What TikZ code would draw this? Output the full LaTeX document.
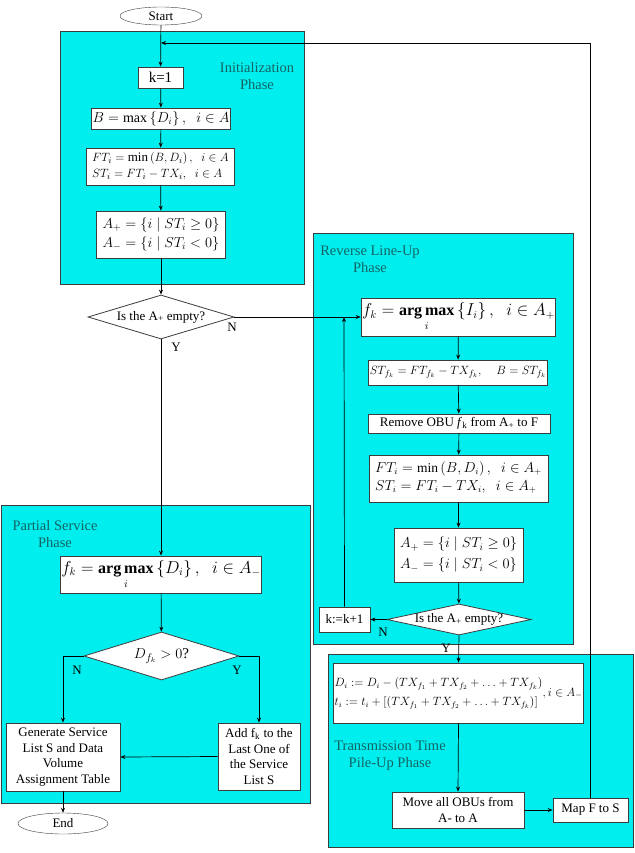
\documentclass[tikz,border=0pt]{standalone}
\usepackage{amsmath}
\usepackage{fontspec}
\setmainfont{Liberation Serif}
\usetikzlibrary{shapes.geometric,arrows.meta}
\definecolor{phasefill}{RGB}{0,238,238}
\definecolor{phasetxt}{RGB}{20,100,100}
\definecolor{edgegray}{RGB}{60,60,60}
\tikzset{
  phase/.style={draw=edgegray, fill=phasefill, line width=0.8pt},
  phaselabel/.style={text=phasetxt, align=center, font=\fontsize{14.5}{17}\selectfont},
  box/.style={draw=edgegray, fill=white, line width=0.8pt, align=center, inner sep=1pt,
              font=\fontsize{13}{15.5}\selectfont},
  term/.style={draw=edgegray, fill=white, ellipse, inner sep=0pt, font=\fontsize{13}{15}\selectfont},
  dec/.style={draw=edgegray, fill=white, diamond, inner sep=0pt, line width=0.8pt,
              font=\fontsize{13}{15}\selectfont},
  conn/.style={draw=black, line width=0.7pt, -{Stealth[length=5pt,width=4pt]}},
  lbl/.style={font=\fontsize{13}{15}\selectfont, inner sep=0pt}
}
\begin{document}
\begin{tikzpicture}[x=1pt,y=-1pt]
\useasboundingbox (0,0) rectangle (634,853);
\fill[white] (0,0) rectangle (634,853);

% phase regions
\draw[phase] (60,31) rectangle (304,284);
\draw[phase] (313,233) rectangle (573,644);
\draw[phase] (1,505) rectangle (310,803);
\draw[phase] (328,654) rectangle (633,847);

\node[phaselabel] (lblinit) at (257,76) {Initialization\\Phase};
\node[phaselabel] (lblrev) at (370,259) {Reverse Line-Up\\Phase};
\node[phaselabel] (lblpart) at (55,534) {Partial Service\\Phase};
\node[phaselabel] (lbltrans) at (390,756) {Transmission Time\\Pile-Up Phase};

% nodes
\node[term, minimum width=82, minimum height=18] (start) at (161,16) {Start};
\node[box, minimum width=45, minimum height=21, font=\fontsize{15}{17}\selectfont] (k1) at (160.5,77.5) {k=1};
\node[box, minimum width=126, minimum height=21, font=\fontsize{14}{16}\selectfont] (bmax) at (161,118.5) {$B=\max\left\{D_i\right\},\;\; i\in A$};
\node[box, minimum width=133, minimum height=37] (ftst) at (160.5,166.5)
  {$\begin{array}{l} FT_i=\min\left(B,D_i\right),\;\; i\in A\\ ST_i=FT_i-TX_i,\;\; i\in A\end{array}$};
\node[box, minimum width=114, minimum height=47, font=\fontsize{14.5}{17}\selectfont] (apm) at (161,234.5)
  {$\begin{array}{l} A_+=\left\{i\mid ST_i\ge 0\right\}\\[2pt] A_-=\left\{i\mid ST_i< 0\right\}\end{array}$};
\node[dec, minimum width=146, minimum height=44, aspect=3.3] (dec1) at (161,317) {Is the A\textsubscript{+} empty?};

\node[box, minimum width=183, minimum height=38, font=\fontsize{16}{18}\selectfont] (fk1) at (458.5,317)
  {$f_k=\mathop{\mathbf{arg\,max}}\limits_i\left\{I_i\right\},\;\; i\in A_+$};
\node[box, minimum width=170, minimum height=25] (stfk) at (458,372.5)
  {$ST_{f_k}=FT_{f_k}-TX_{f_k},\quad B=ST_{f_k}$};
\node[box, minimum width=182, minimum height=19] (remove) at (459,423.5)
  {Remove OBU \textit{f}\textsubscript{k} from A\textsubscript{+} to F};
\node[box, minimum width=151, minimum height=47, font=\fontsize{13.5}{16}\selectfont] (ftst2) at (458.5,478.5)
  {$\begin{array}{l} FT_i=\min\left(B,D_i\right),\;\; i\in A_+\\[2pt] ST_i=FT_i-TX_i,\;\; i\in A_+\end{array}$};
\node[box, minimum width=113, minimum height=54, font=\fontsize{14.5}{17}\selectfont] (apm2) at (458.5,555)
  {$\begin{array}{l} A_+=\left\{i\mid ST_i\ge 0\right\}\\[4pt] A_-=\left\{i\mid ST_i< 0\right\}\end{array}$};
\node[dec, minimum width=144, minimum height=31, aspect=4.6] (dec2) at (459,619.5) {Is the A\textsubscript{+} empty?};
\node[box, minimum width=51, minimum height=25] (kk) at (344.5,619.5) {k:=k+1};
\coordinate (j2) at (344,317);

\node[box, minimum width=196, minimum height=37, font=\fontsize{16}{18}\selectfont] (fk2) at (161,574.5)
  {$f_k=\mathop{\mathbf{arg\,max}}\limits_i\left\{D_i\right\},\;\; i\in A_-$};
\node[dec, minimum width=155, minimum height=48, aspect=3.2, font=\fontsize{15}{17}\selectfont] (dec3) at (161.5,656) {$D_{f_k}>0$?};
\node[box, minimum width=114, minimum height=68] (gen) at (63,757) {Generate Service\\List S and Data\\Volume\\Assignment Table};
\node[box, minimum width=82, minimum height=67] (add) at (259,756.5) {Add f\textsubscript{k} to the\\Last One of\\the Service\\List S};
\node[term, minimum width=90, minimum height=21] (end) at (63,823.5) {End};

\node[box, minimum width=235, minimum height=60, font=\fontsize{11.5}{14}\selectfont] (di) at (458.5,693)
  {$\begin{array}{@{}l@{}} D_i:=D_i-\left(TX_{f_1}+TX_{f_2}+\ldots+TX_{f_k}\right)\\[5pt]
   t_i:=t_i+\left[\left(TX_{f_1}+TX_{f_2}+\ldots+TX_{f_k}\right)\right]\end{array}{,}\, i\in A_-$};
\node[box, minimum width=132, minimum height=36] (move) at (458,810) {Move all OBUs from\\A- to A};
\node[box, minimum width=75, minimum height=24] (map) at (590.5,810) {Map F to S};
\coordinate (j1) at (161,43);

% connectors
\draw[conn] (start) -- (k1);
\draw[conn] (k1) -- (bmax);
\draw[conn] (bmax) -- (ftst);
\draw[conn] (ftst) -- (apm);
\draw[conn] (apm) -- (dec1);
\draw[conn] (dec1.east) -- (fk1.west);
\draw[conn] (dec1.south) -- (fk2.north);
\draw[conn] (fk1) -- (stfk);
\draw[conn] (stfk) -- (remove);
\draw[conn] (remove) -- (ftst2);
\draw[conn] (ftst2) -- (apm2);
\draw[conn] (apm2) -- (dec2);
\draw[conn] (dec2.west) -- (kk.east);
\draw[conn] (kk.north) -- (j2);
\draw[conn] (dec2.south) -- (di.north);
\draw[conn] (di.south) -- (move.north);
\draw[conn] (move.east) -- (map.west);
\draw[conn] (map.north) |- (j1);
\draw[conn] (fk2) -- (dec3);
\draw[conn] (dec3.west) -| (gen.north);
\draw[conn] (dec3.east) -| (add.north);
\draw[conn] (add.west) -- (gen.east);
\draw[conn] (gen.south) -- (end.north);

% branch labels
\node[lbl] (n1) at (232,327) {N};
\node[lbl] (y1) at (176,347) {Y};
\node[lbl] (n2) at (383,632) {N};
\node[lbl] (y2) at (446,648) {Y};
\node[lbl] (n3) at (77,670) {N};
\node[lbl] (y3) at (237,670) {Y};
\end{tikzpicture}
\end{document}
